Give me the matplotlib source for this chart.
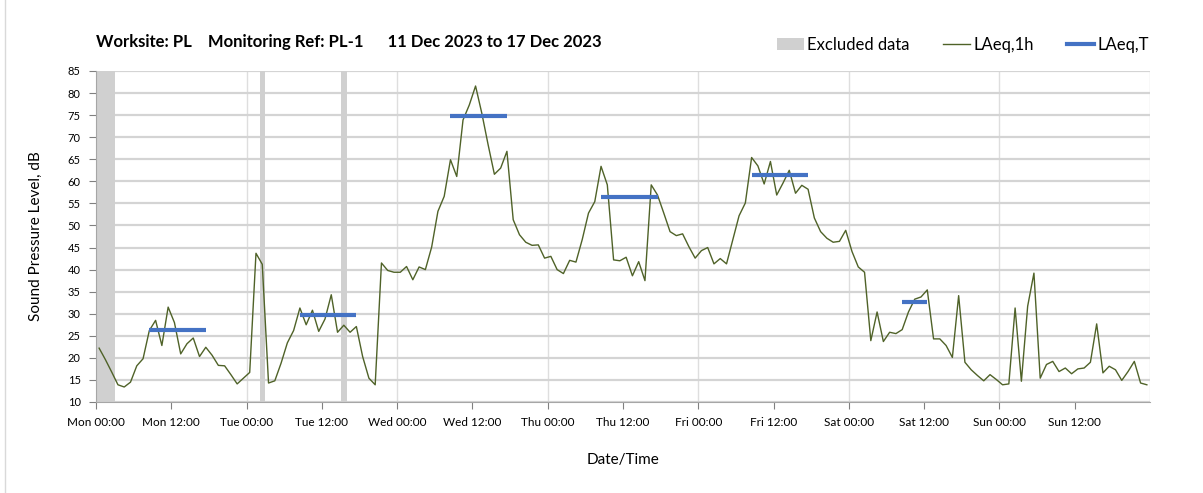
import numpy as np
import matplotlib.pyplot as plt
from matplotlib.patches import Patch
from matplotlib.lines import Line2D

# hourly LAeq,1h values, Mon 00:00 to Sun 23:00
mon = [22.2, 19.6, 16.8, 13.9, 13.4, 14.5, 18.2, 19.8, 26.2, 28.5, 22.8, 31.5,
       28.0, 20.9, 23.2, 24.5, 20.3, 22.4, 20.6, 18.3, 18.2, 16.2, 14.1, 15.4]
tue = [16.7, 43.7, 41.2, 14.3, 14.8, 18.8, 23.4, 26.2, 31.3, 27.5, 30.8, 26.0,
       28.8, 34.3, 25.8, 27.4, 25.8, 27.1, 20.3, 15.4, 13.9, 41.5, 39.8, 39.4]
wed = [39.4, 40.7, 37.7, 40.6, 40.0, 45.1, 53.2, 56.6, 64.9, 61.1, 73.9, 77.3,
       81.6, 75.4, 68.3, 61.6, 63.0, 66.8, 51.3, 47.9, 46.2, 45.5, 45.6, 42.6]
thu = [43.0, 40.0, 39.1, 42.1, 41.7, 46.8, 52.8, 55.4, 63.4, 59.2, 42.2, 42.0,
       42.8, 38.6, 41.8, 37.5, 59.2, 56.9, 52.8, 48.6, 47.7, 48.1, 45.2, 42.6]
fri = [44.3, 45.0, 41.3, 42.5, 41.3, 46.8, 52.2, 55.1, 65.4, 63.5, 59.4, 64.5,
       56.9, 59.6, 62.5, 57.3, 59.1, 58.2, 51.7, 48.6, 47.1, 46.2, 46.4, 48.9]
sat = [44.1, 40.6, 39.4, 23.9, 30.4, 23.7, 25.8, 25.5, 26.4, 30.4, 33.3, 33.8,
       35.4, 24.3, 24.3, 22.8, 20.1, 34.1, 19.0, 17.3, 16.0, 14.8, 16.2, 15.1]
sun = [13.9, 14.1, 31.3, 14.7, 31.7, 39.2, 15.4, 18.5, 19.2, 16.9, 17.7, 16.4,
       17.5, 17.7, 19.0, 27.7, 16.6, 18.1, 17.3, 14.9, 16.9, 19.2, 14.3, 13.9]
laeq_1h = mon + tue + wed + thu + fri + sat + sun

# LAeq,T daytime values, first and last hour of each period
laeq_t = [26.3, 29.8, 74.7, 56.4, 61.5, 32.6]
t_start = [8, 32, 56, 80, 104, 128]
t_end = [17, 41, 65, 89, 113, 132]

# hours flagged as excluded
excluded = [0, 1, 2, 26, 39]

days = ['Mon', 'Tue', 'Wed', 'Thu', 'Fri', 'Sat', 'Sun']
tick_labels = []
for d in days:
    tick_labels += [d + ' 00:00', d + ' 12:00']

plt.rcParams['font.family'] = ['Lato', 'DejaVu Sans']

fig = plt.figure(figsize=(12.03, 4.93), dpi=100)
ax = fig.add_axes([96/1203, 91/493, 1054/1203, 331/493])

x = np.arange(len(laeq_1h)) + 0.5

# excluded data bands (merge neighbouring hours)
spans = []
for h in excluded:
    if spans and spans[-1][1] == h:
        spans[-1][1] = h + 1
    else:
        spans.append([h, h + 1])
for a, b in spans:
    pad = 0.07 if b - a == 1 else 0
    ax.axvspan(a + pad, b - pad, color='#d0d0d0', lw=0, zorder=1)

ax.plot(x, laeq_1h, color='#4f6228', lw=1.0, zorder=3)
for v, s, e in zip(laeq_t, t_start, t_end):
    ax.plot([s + 0.5, e + 0.5], [v, v], color='#4472c4', lw=3, solid_capstyle='butt', zorder=4)

ax.set_xlim(0, 168)
ax.set_ylim(10, 85)
ax.set_yticks(np.arange(10, 86, 5))
ax.set_xticks(np.arange(0, 168, 12))
ax.set_xticklabels(tick_labels, fontsize=8.5)
ax.tick_params(axis='y', labelsize=8, length=5, color='#808080', pad=6)
ax.tick_params(axis='x', length=5, color='#808080', pad=6)

ax.yaxis.grid(True, color='#d4d4d4', lw=1.6, zorder=0)
for xv in range(0, 169, 24):
    ax.axvline(xv, color='#dedede', lw=1.0, zorder=0)
ax.set_axisbelow(True)
for s in ['top', 'right']:
    ax.spines[s].set_visible(False)
ax.spines['left'].set_color('#a6a6a6')
ax.spines['bottom'].set_color('#a6a6a6')

ax.set_ylabel('Sound Pressure Level, dB', fontsize=11, labelpad=18)
ax.set_xlabel('Date/Time', fontsize=11, labelpad=18)

fig.text(96/1203, 1 - 42/493, 'Worksite: PL    Monitoring Ref: PL-1      11 Dec 2023 to 17 Dec 2023',
         fontsize=12, fontweight='bold', va='center', ha='left')

handles = [Patch(facecolor='#d0d0d0', edgecolor='none'),
           Line2D([], [], color='#4f6228', lw=1),
           Line2D([], [], color='#4472c4', lw=3)]
fig.legend(handles, ['Excluded data', 'LAeq,1h', 'LAeq,T'], loc='center',
           bbox_to_anchor=(963/1203, 1 - 45/493), ncol=3, frameon=False,
           fontsize=12, handlelength=1.6, handletextpad=0.2, columnspacing=2.0)

fig.add_artist(Line2D([5/1203, 5/1203], [0, 1], color='#d9d9d9', lw=1))

fig.savefig('out.png', dpi=100)
